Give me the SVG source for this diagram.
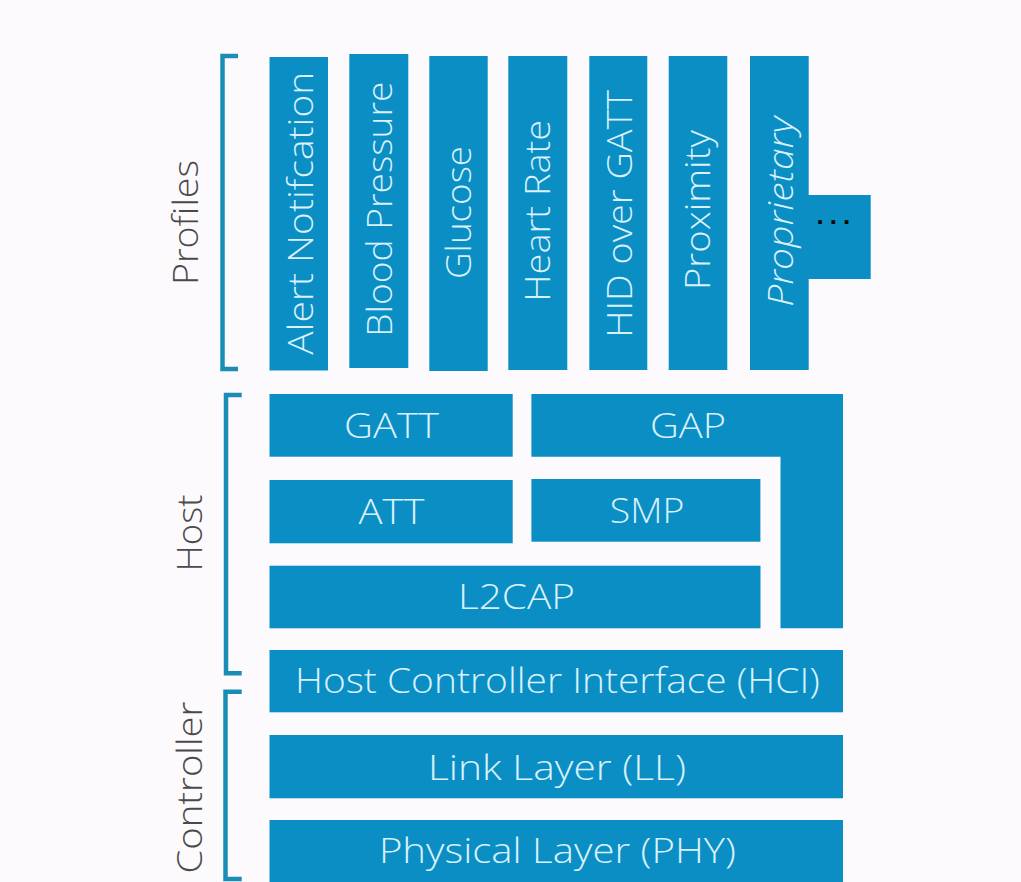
<svg xmlns="http://www.w3.org/2000/svg" width="1021" height="882" viewBox="0 0 1021 882">
<style>
.box{fill:#0b8ec4}
.lbl{font-family:"Open Sans","Liberation Sans",sans-serif;font-weight:300;font-size:34px;fill:#d8f1fb;text-anchor:middle}
.side{font-family:"Open Sans","Liberation Sans",sans-serif;font-weight:300;font-size:34px;fill:#4a4a4a;text-anchor:middle}
.brk{fill:none;stroke:#1a8db5;stroke-width:4.5}
</style>
<rect x="0" y="0" width="1021" height="882" fill="#fcfafd"/>
<g id="brackets">
<path class="brk" d="M238,56 H222.5 V369 H238"/>
<path class="brk" d="M241.7,395 H226 V673.3 H241.7"/>
<path class="brk" d="M241.7,691.7 H225.5 V879 H241.7"/>
</g>
<g id="connectors"></g>
<g id="label-profiles"><text class="side" transform="translate(198,222.5) rotate(-90)" textLength="125" lengthAdjust="spacingAndGlyphs">Profiles</text></g>
<g id="label-host"><text class="side" transform="translate(202,533) rotate(-90)" textLength="77" lengthAdjust="spacingAndGlyphs">Host</text></g>
<g id="label-controller"><text class="side" transform="translate(202,787.5) rotate(-90)" textLength="172" lengthAdjust="spacingAndGlyphs">Controller</text></g>

<g id="alert-notification"><rect class="box" x="269.5" y="57" width="58.5" height="313.5"/><text class="lbl" transform="translate(313,213.3) rotate(-90)" textLength="283" lengthAdjust="spacingAndGlyphs">Alert Notifcation</text></g>
<g id="blood-pressure"><rect class="box" x="349.3" y="54" width="59" height="314"/><text class="lbl" transform="translate(391.5,209.2) rotate(-90)" textLength="255" lengthAdjust="spacingAndGlyphs">Blood Pressure</text></g>
<g id="glucose"><rect class="box" x="429.3" y="56" width="58.4" height="315"/><text class="lbl" transform="translate(470.5,212.5) rotate(-90)" textLength="133" lengthAdjust="spacingAndGlyphs">Glucose</text></g>
<g id="heart-rate"><rect class="box" x="508.3" y="56" width="59" height="314"/><text class="lbl" transform="translate(550,210.8) rotate(-90)" textLength="182" lengthAdjust="spacingAndGlyphs">Heart Rate</text></g>
<g id="hid-over-gatt"><rect class="box" x="589.3" y="56" width="58" height="314"/><text class="lbl" transform="translate(631.7,213.8) rotate(-90)" textLength="248" lengthAdjust="spacingAndGlyphs">HID over GATT</text></g>
<g id="proximity"><rect class="box" x="668.7" y="56" width="58.6" height="314"/><text class="lbl" transform="translate(710,210) rotate(-90)" textLength="160" lengthAdjust="spacingAndGlyphs">Proximity</text></g>
<g id="proprietary"><rect class="box" x="750" y="56" width="58.7" height="314"/><text class="lbl" font-style="italic" transform="translate(793,211.7) rotate(-90)" textLength="190" lengthAdjust="spacingAndGlyphs">Proprietary</text></g>
<g id="more"><rect class="box" x="808" y="195" width="62.7" height="84"/><text x="816.5" y="224" font-family="'Liberation Sans',sans-serif" font-weight="bold" font-size="26" letter-spacing="6" fill="#0a0a0a">...</text></g>

<g id="gatt"><rect class="box" x="269.5" y="394" width="243.2" height="62.7"/><text class="lbl" x="391.5" y="438" textLength="95" lengthAdjust="spacingAndGlyphs">GATT</text></g>
<g id="gap"><path class="box" d="M531.4,394 H843 V628.3 H780.5 V456.7 H531.4 Z"/><text class="lbl" x="688" y="438" textLength="76" lengthAdjust="spacingAndGlyphs">GAP</text></g>
<g id="att"><rect class="box" x="269.5" y="480" width="243.2" height="63.3"/><text class="lbl" x="391.5" y="524" textLength="66" lengthAdjust="spacingAndGlyphs">ATT</text></g>
<g id="smp"><rect class="box" x="531.4" y="479" width="229" height="62.7"/><text class="lbl" x="647" y="522.7" textLength="74.5" lengthAdjust="spacingAndGlyphs">SMP</text></g>
<g id="l2cap"><rect class="box" x="269.5" y="565.7" width="491" height="62.6"/><text class="lbl" x="516.5" y="609" textLength="117" lengthAdjust="spacingAndGlyphs">L2CAP</text></g>
<g id="hci"><rect class="box" x="269.5" y="650" width="573.5" height="62.3"/><text class="lbl" x="557.4" y="692.5" textLength="525" lengthAdjust="spacingAndGlyphs">Host Controller Interface (HCI)</text></g>
<g id="ll"><rect class="box" x="269.5" y="735" width="573.5" height="63.3"/><text class="lbl" x="557" y="779.5" textLength="258" lengthAdjust="spacingAndGlyphs">Link Layer (LL)</text></g>
<g id="phy"><rect class="box" x="269.5" y="820" width="573.5" height="70"/><text class="lbl" x="557.4" y="863" textLength="357" lengthAdjust="spacingAndGlyphs">Physical Layer (PHY)</text></g>
</svg>
